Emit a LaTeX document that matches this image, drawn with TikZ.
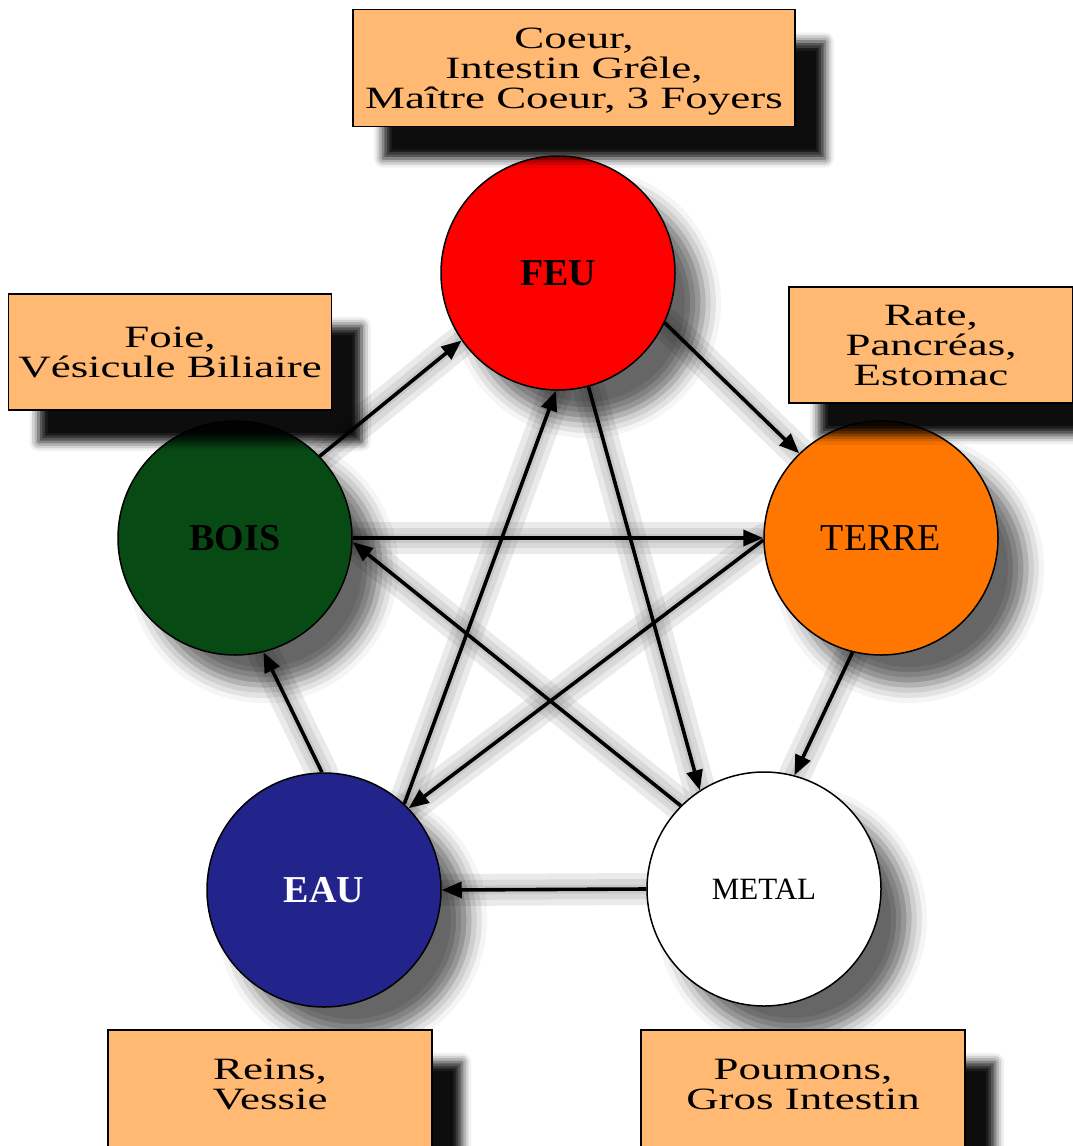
\documentclass[tikz,border=0pt]{standalone}
\usepackage{fontspec}
\setmainfont{Liberation Serif}
\newfontfamily\organfont[FakeStretch=1.45]{Liberation Serif}
\usetikzlibrary{arrows.meta,shadows.blur,backgrounds}
\definecolor{peau}{RGB}{255,185,115}
\definecolor{rougefeu}{RGB}{255,0,0}
\definecolor{vertbois}{RGB}{8,74,20}
\definecolor{orangeterre}{RGB}{255,118,0}
\definecolor{bleueau}{RGB}{35,35,140}
\begin{document}
\begin{tikzpicture}
            [x=1pt,y=-1pt,
             element/.style={circle,draw,line width=1.5pt,minimum size=234pt,inner sep=0pt,
               blur shadow={shadow xshift=28pt,shadow yshift=-30pt,shadow opacity=60,shadow blur radius=18pt}},
             organ/.style={rectangle,draw,line width=1.2pt,fill=peau,align=center,inner sep=0pt,
               font=\organfont\fontsize{31}{30}\selectfont,
               blur shadow={shadow xshift=30pt,shadow yshift=-32pt,shadow opacity=95,shadow blur radius=9pt}},
             flux/.style={line width=3.6pt,-{Triangle[length=20pt,width=16pt]}},
             ombre/.style={line width=#1,gray,opacity=0.17,line cap=round}]
            \useasboundingbox (0,0) rectangle (1073,1146);
            % les cinq elements
            \node [element,fill=rougefeu,font=\fontsize{38}{40}\selectfont\bfseries] (feu) at (558,273) {FEU};
            \node [element,fill=vertbois,font=\fontsize{38}{40}\selectfont\bfseries] (bois) at (235,538) {BOIS};
            \node [element,fill=orangeterre,font=\fontsize{38}{40}\selectfont] (terre) at (881,538) {TERRE};
            \node [element,fill=bleueau,text=white,font=\fontsize{38}{40}\selectfont\bfseries] (eau) at (324,890) {EAU};
            \node [element,fill=white,font=\fontsize{31}{33}\selectfont] (metal) at (764,889) {METAL};
            % les organes
            \node [organ,minimum width=442pt,minimum height=117pt,text depth=0pt] (orgfeu) at (574,68) {Coeur,\\Intestin Grêle,\\Maître Coeur, 3 Foyers};
            \node [organ,minimum width=323pt,minimum height=116pt] (orgbois) at (170,352) {Foie,\\Vésicule Biliaire};
            \node [organ,minimum width=284pt,minimum height=116pt] (orgterre) at (931,345) {Rate,\\Pancréas,\\Estomac};
            \node [organ,minimum width=324pt,minimum height=124pt,text depth=16pt] (orgeau) at (270,1092) {Reins,\\Vessie};
            \node [organ,minimum width=324pt,minimum height=124pt,text depth=16pt] (orgmetal) at (803,1092) {Poumons,\\Gros Intestin};
            % les fleches
            \draw [flux] (bois.44) -- (feu.215);
            \draw [flux] (feu.-25) -- (terre.134);
            \draw [flux] (terre.256) -- (metal.75);
            \draw [flux] (metal.west) -- (eau.east);
            \draw [flux] (eau.91) -- (bois.284);
            \draw [flux] (bois.east) -- (terre.west);
            \draw [flux] (feu.285) -- (metal.123);
            \draw [flux] (eau.47) -- (feu.269);
            \draw [flux] (terre.181) -- (eau.44);
            \draw [flux] (metal.135) -- (bois.358);
            % ombres des fleches
            \begin{scope}[on background layer,transform canvas={shift={(26pt,-30pt)}}]
              \foreach \a/\b in {bois.44/feu.215,feu.-25/terre.134,terre.256/metal.75,
                                 metal.west/eau.east,eau.91/bois.284,bois.east/terre.west,
                                 feu.285/metal.123,eau.47/feu.269,terre.181/eau.44,metal.135/bois.358}
              {
                \draw [ombre=32pt] (\a) -- (\b);
                \draw [ombre=20pt] (\a) -- (\b);
                \draw [ombre=9pt] (\a) -- (\b);
              }
            \end{scope}
        \end{tikzpicture}
\end{document}
